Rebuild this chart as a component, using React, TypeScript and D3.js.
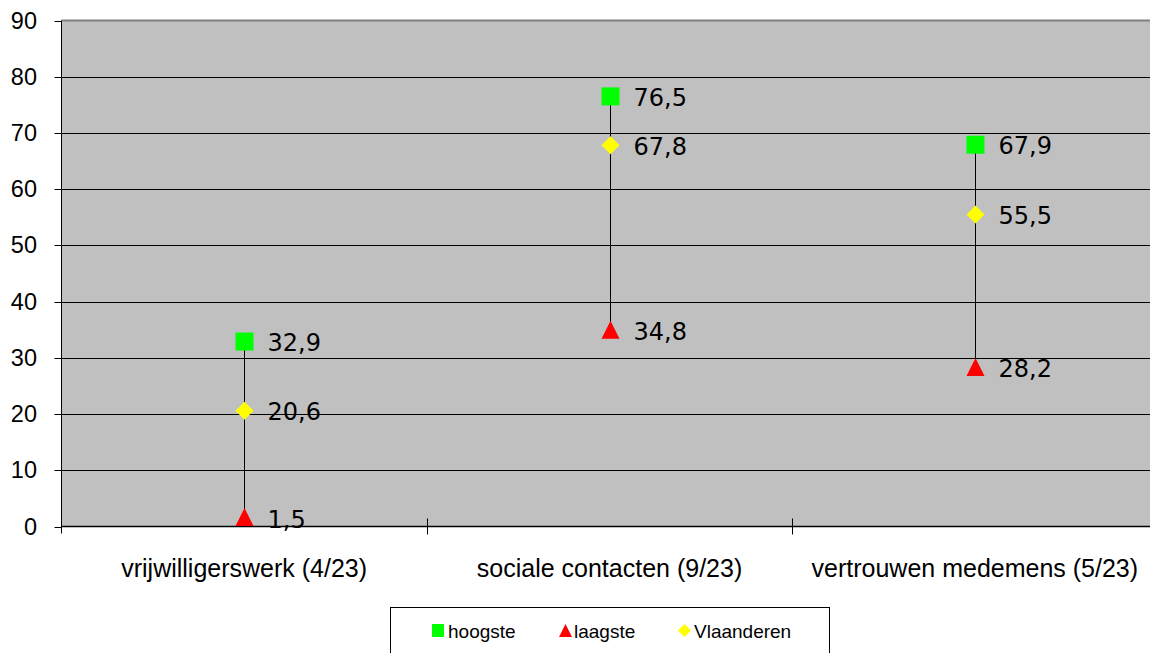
import React from "react";
import * as d3 from "d3";

const categories = ["vrijwilligerswerk (4/23)", "sociale contacten (9/23)", "vertrouwen medemens (5/23)"];
const hoogste = [32.9, 76.5, 67.9];
const laagste = [1.5, 34.8, 28.2];
const vlaanderen = [20.6, 67.8, 55.5];
const yTicks = [0, 10, 20, 30, 40, 50, 60, 70, 80, 90];

const fmt = (v: number) => v.toFixed(1).replace(".", ",");

export default function App() {
  const W = 1150, H = 653;
  const left = 61.5, right = 1157.5, top = 20.5, bottom = 526.5;
  const x = d3.scaleBand<string>().domain(categories).range([left, right]);
  const y = d3.scaleLinear().domain([0, 90]).range([bottom, top]);
  const cx = (c: string) => (x(c) as number) + x.bandwidth() / 2;
  const tri = (w: number, up: number, down: number) => `M0,${-up}L${w},${down}L${-w},${down}Z`;
  const dia = (s: number) => `M0,${-s}L${s},0L0,${s}L${-s},0Z`;
  const arial = "'Liberation Sans', Arial";

  return (
    <svg width={W} height={H} style={{ position: "absolute", left: 0, top: 0 }}>
      <rect x={0} y={0} width={W} height={H} fill="#fff" />
      <rect x={left} y={top} width={right - left} height={bottom - top} fill="#c0c0c0" />
      {yTicks.map((t) => (
        <g key={t}>
          {t > 0 && t < 90 && (
            <line x1={left} x2={right} y1={Math.round(y(t)) + 0.5} y2={Math.round(y(t)) + 0.5} stroke="#000" strokeWidth={1} />
          )}
          <line x1={left - 7} x2={left} y1={Math.round(y(t)) + 0.5} y2={Math.round(y(t)) + 0.5} stroke="#000" />
          <text x={37} y={y(t) + 8} textAnchor="end" fontFamily={arial} fontSize={23.5} fill="#000">
            {t}
          </text>
        </g>
      ))}
      <line x1={left} x2={right} y1={top} y2={top} stroke="#808080" strokeWidth={2} />
      <line x1={left} x2={left} y1={top} y2={bottom + 7} stroke="#000" />
      <line x1={left} x2={right} y1={bottom} y2={bottom} stroke="#000" strokeWidth={1.5} />
      {categories.slice(1).map((c) => (
        <line key={c} x1={Math.round(x(c) as number) + 0.5} x2={Math.round(x(c) as number) + 0.5} y1={bottom - 8} y2={bottom + 8} stroke="#000" />
      ))}
      {categories.map((c) => (
        <text key={c} x={cx(c)} y={577} textAnchor="middle" fontFamily={arial} fontSize={25} fill="#000">
          {c}
        </text>
      ))}
      {categories.map((c, i) => {
        const px = Math.round(cx(c)) + 0.5;
        return (
          <g key={c}>
            <line x1={px} x2={px} y1={y(hoogste[i])} y2={y(laagste[i])} stroke="#000" strokeWidth={1} />
            <rect x={px - 9} y={y(hoogste[i]) - 9} width={18} height={18} fill="#00ff00" />
            <path d={dia(9)} transform={`translate(${px},${y(vlaanderen[i])})`} fill="#ffff00" />
            <path d={tri(9, 10, 8)} transform={`translate(${px},${y(laagste[i])})`} fill="#ff0000" />
            {[hoogste[i], vlaanderen[i], laagste[i]].map((v, k) => (
              <text key={k} x={px + 23} y={y(v) + 9.5} fontFamily="'DejaVu Sans', Verdana" fontSize={24} fill="#000">
                {fmt(v)}
              </text>
            ))}
          </g>
        );
      })}
      <rect x={390.5} y={607.5} width={439} height={50} fill="#fff" stroke="#000" />
      <rect x={432} y={624} width={12} height={13} fill="#00ff00" />
      <text x={448} y={638} fontFamily={arial} fontSize={19}>hoogste</text>
      <path d={tri(6.5, 7, 6)} transform="translate(565.5,631)" fill="#ff0000" />
      <text x={574} y={638} fontFamily={arial} fontSize={19}>laagste</text>
      <path d={dia(6.5)} transform="translate(684.5,630.5)" fill="#ffff00" />
      <text x={694} y={638} fontFamily={arial} fontSize={19}>Vlaanderen</text>
    </svg>
  );
}
